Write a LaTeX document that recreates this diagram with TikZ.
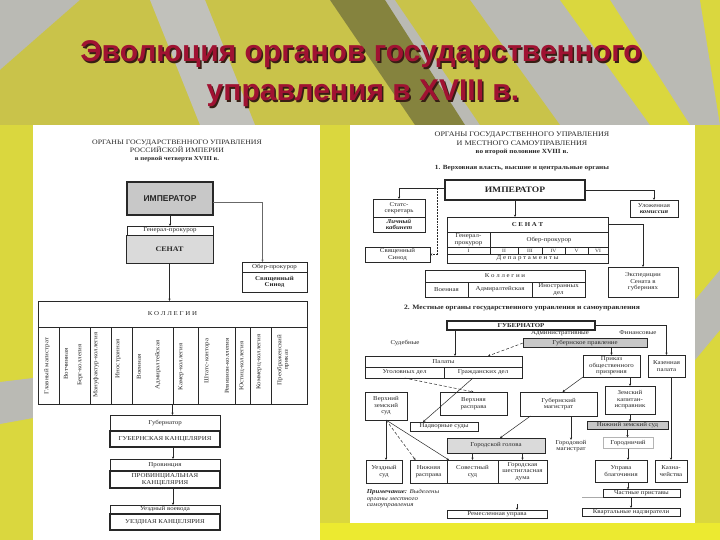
\documentclass[tikz,border=0pt]{standalone}
\usepackage{fontspec}
\setmainfont{Liberation Serif}[FakeStretch=1.15]
\newfontfamily\headfont{Liberation Sans}
\usetikzlibrary{arrows.meta}
\definecolor{slgrey}{RGB}{186,186,180}
\definecolor{slolive}{RGB}{201,195,74}
\definecolor{sldark}{RGB}{133,131,62}
\definecolor{slyellow}{RGB}{218,215,62}
\definecolor{slbright}{RGB}{236,234,48}
\definecolor{sltitle}{RGB}{160,18,50}
\definecolor{slshadow}{RGB}{55,30,20}
\definecolor{scink}{RGB}{40,40,40}
\definecolor{scgrey}{RGB}{200,200,200}
\definecolor{sclight}{RGB}{218,218,218}
\newcommand\sm{\fontsize{6}{6.5}\selectfont}
\newcommand\xs{\fontsize{4.8}{5.2}\selectfont}
\tikzset{
  bx/.style={draw=scink, line width=0.5pt, inner sep=0pt, outer sep=0pt,
             align=center, font=\sm, text=scink},
  hbx/.style={bx, line width=1.3pt},
  gbx/.style={bx, fill=scgrey},
  txt/.style={inner sep=0pt, align=center, font=\sm, text=scink},
  vtxt/.style={txt, rotate=90},
  ln/.style={draw=scink, line width=0.5pt},
  arr/.style={ln, -{Stealth[length=2.4pt,width=2.2pt]}},
  darr/.style={arr, densely dashed},
  ttl/.style={anchor=base, inner sep=0pt,
              font=\headfont\bfseries\fontsize{30}{34}\selectfont},
}

\begin{document}
\begin{tikzpicture}[x=1pt,y=-1pt]
\useasboundingbox (0,0) rectangle (720,540);

% slide background
\fill[slgrey] (0,0) rectangle (720,540);
\fill[slolive] (80,0) -- (330,0) -- (420,125) -- (0,125) -- (0,70) -- cycle;
\fill[slgrey!90!white] (150,0) -- (205,0) -- (255,125) -- (200,125) -- cycle;
\fill[sldark] (330,0) -- (385,0) -- (465,125) -- (415,125) -- cycle;
\fill[slolive] (395,0) -- (470,0) -- (560,125) -- (480,125) -- cycle;
\fill[slyellow] (560,0) -- (610,0) -- (690,125) -- (650,125) -- cycle;
\fill[slyellow] (700,0) -- (720,0) -- (720,125) -- cycle;
\fill[slyellow] (0,125) rectangle (33,540);
\fill[slgrey] (0,382) -- (33,378) -- (33,418) -- (0,424) -- cycle;
\fill[slyellow] (320,125) rectangle (350,540);
\fill[slyellow] (695,125) rectangle (720,540);
\fill[slgrey] (695,300) -- (720,270) -- (720,330) -- (695,360) -- cycle;
\fill[slbright] (320,523) rectangle (720,540);
\fill[white] (33,125) rectangle (320,540);
\fill[white] (350,125) rectangle (695,523);

% title
\node[ttl, text=slshadow] at (362.5,63.5) {Эволюция органов государственного};
\node[ttl, text=sltitle] (ttl1) at (361,62) {Эволюция органов государственного};
\node[ttl, text=slshadow] at (364.5,102.5) {управления в XVIII в.};
\node[ttl, text=sltitle] (ttl2) at (363,101) {управления в XVIII в.};

% ---------- first quarter ----------
\node[txt, font=\fontsize{6.8}{8.2}\selectfont] (ttlL) at (177,151)
  {ОРГАНЫ ГОСУДАРСТВЕННОГО УПРАВЛЕНИЯ\\РОССИЙСКОЙ ИМПЕРИИ\\
   \textbf{\fontsize{6}{8.2}\selectfont в первой четверти XVIII в.}};
\node[bx, line width=1.6pt, fill=scgrey, minimum width=86pt, minimum height=33pt,
      font=\headfont\bfseries\fontsize{8.5}{9}\selectfont] (empL) at (170,198.5) {ИМПЕРАТОР};
\node[bx, minimum width=86pt, minimum height=9pt] (genL) at (170,230.5) {Генерал-прокурор};
\node[bx, line width=0.8pt, fill=sclight, minimum width=87pt, minimum height=28pt,
      font=\bfseries\fontsize{7}{8}\selectfont] (senL) at (169.5,249) {СЕНАТ};
\node[bx, minimum width=65pt, minimum height=10pt] (oberL) at (274.5,267) {Обер-прокурор};
\node[bx, minimum width=65pt, minimum height=20pt, font=\bfseries\sm] (synL) at (274.5,282)
  {Священный\\Синод};
\node[bx, line width=0.7pt, minimum width=269pt, minimum height=26pt] (kolL) at (172.5,314)
  {К О Л Л Е Г И И};
\node[bx, minimum width=269pt, minimum height=77pt] (colsL) at (172.5,365.5) {};
\foreach \c in {59,90,111,132,173,198,235,250,271}
  \draw[ln] (\c,327) -- (\c,404);
\foreach \x/\y/\t in {47/366/Главный магистрат, 66/364/Вотчинная, 80/365/Берг-коллегия,
    96/365/Мануфактур-коллегия, 118/359/Иностранная, 139/367/Военная,
    158/365/Адмиралтейская, 181/367/Камер-коллегия, 207/361/Штатс-контора,
    227/366/Ревизион-коллегия, 242/366/Юстиц-коллегия, 259/362/Коммерц-коллегия,
    283/360/{Преображенский\\приказ}}
  \node[vtxt] at (\x,\y) {\t};
\node[bx, minimum width=110pt, minimum height=16pt] (gubL1) at (165,423) {Губернатор};
\node[hbx, minimum width=110pt, minimum height=16pt] (gubL2) at (165,439) {ГУБЕРНСКАЯ КАНЦЕЛЯРИЯ};
\node[bx, minimum width=110pt, minimum height=12pt] (prL1) at (165,465) {Провинция};
\node[hbx, minimum width=110pt, minimum height=17pt] (prL2) at (165,479.5)
  {ПРОВИНЦИАЛЬНАЯ\\КАНЦЕЛЯРИЯ};
\node[bx, minimum width=110pt, minimum height=9pt] (uzL1) at (165,509.5) {Уездный воевода};
\node[hbx, minimum width=110pt, minimum height=16pt] (uzL2) at (165,522) {УЕЗДНАЯ КАНЦЕЛЯРИЯ};

\draw[arr] (empL.south) -- (genL.north);
\draw[arr, draw=scink!70] ([yshift=-4pt]empL.east) -| ([xshift=-12pt]oberL.north);
\draw[arr] (senL.south) -- (senL.south |- kolL.north);
\draw[arr] (colsL.south) -- (colsL.south |- gubL1.north);
\draw[arr] ([xshift=8pt]gubL2.south) -- ([xshift=8pt]prL1.north);
\draw[arr] ([xshift=8pt]prL2.south) -- ([xshift=8pt]uzL1.north);

% ---------- second half ----------
\node[txt, font=\fontsize{7}{8.5}\selectfont] (ttlR) at (522,143.5)
  {ОРГАНЫ ГОСУДАРСТВЕННОГО УПРАВЛЕНИЯ\\И МЕСТНОГО САМОУПРАВЛЕНИЯ\\
   \textbf{\fontsize{6.3}{8.5}\selectfont во второй половине XVIII в.}};
\node[txt, font=\bfseries\fontsize{6.3}{7}\selectfont] (sec1) at (522,168)
  {1. Верховная власть, высшие и центральные органы};
\node[bx, line width=1.6pt, minimum width=140pt, minimum height=20pt,
      font=\bfseries\fontsize{8.3}{9}\selectfont] (empR) at (515,190) {ИМПЕРАТОР};
\node[bx, minimum width=52pt, minimum height=18pt] (stR) at (399,208) {Статс-\\секретарь};
\node[bx, minimum width=52pt, minimum height=15pt, font=\bfseries\itshape\sm] (kabR) at (399,224.5)
  {Личный\\кабинет};
\node[bx, minimum width=65pt, minimum height=15pt] (synR) at (397.5,254.5) {Священный\\Синод};
\node[bx, minimum width=48pt, minimum height=17pt] (ulR) at (654,208.5)
  {Уложенная\\\textbf{\textit{комиссия}}};
\node[bx, line width=0.8pt, minimum width=161pt, minimum height=15pt,
      font=\bfseries\fontsize{6}{7}\selectfont] (senR) at (527.5,224.5) {С Е Н А Т};
\node[bx, minimum width=43pt, minimum height=15pt] (genR) at (468.5,239.5) {Генерал-\\прокурор};
\node[bx, minimum width=118pt, minimum height=15pt] (oberR) at (549,239.5) {Обер-прокурор};
\foreach \n/\x/\w/\t in {d1/468.5/43/I, d2/504/28/II, d3/530/24/III,
    d4/553.5/23/IV, d5/576.5/23/V, d6/598/20/VI}
  \node[bx, font=\xs, minimum width=\w pt, minimum height=7pt] (\n) at (\x,250.5) {\t};
\node[bx, minimum width=161pt, minimum height=9pt] (depR) at (527.5,258.5)
  {Д е п а р т а м е н т ы};
\node[bx, minimum width=70pt, minimum height=30pt] (ekR) at (643,282)
  {Экспедиции\\Сената в\\губерниях};
\node[bx, minimum width=160pt, minimum height=12pt] (kolR) at (505,276) {К о л л е г и и};
\node[bx, minimum width=43pt, minimum height=15pt] (k1) at (446.5,289.5) {Военная};
\node[bx, minimum width=64pt, minimum height=15pt] (k2) at (500,289.5) {Адмиралтейская};
\node[bx, minimum width=53pt, minimum height=15pt] (k3) at (558.5,289.5) {Иностранных\\дел};

\coordinate (jR) at (437,188);
\draw[arr] ([yshift=2pt]empR.west) -| (stR.north);
\draw[arr, densely dotted] (jR) |- (synR.east);
\draw[arr] (empR.south) -- (empR.south |- senR.north);
\draw[arr] (empR.east) -| (ulR.north);
\draw[arr] (senR.east) -| (ekR.north);

\node[txt, font=\bfseries\fontsize{6.6}{7}\selectfont] (sec2) at (522,308)
  {2. Местные органы государственного управления и самоуправления};
\node[bx, line width=1.5pt, minimum width=148pt, minimum height=9pt,
      font=\bfseries\fontsize{6}{6.5}\selectfont] (gubR) at (521,325.5) {ГУБЕРНАТОР};
\node[txt] (admT) at (560,333) {Административные};
\node[txt] (finT) at (638,333) {Финансовые};
\node[txt] (sudT) at (405,343) {Судебные};
\node[gbx, minimum width=124pt, minimum height=9pt] (gpR) at (585,343) {Губернское правление};
\node[bx, minimum width=157pt, minimum height=11pt] (palR) at (443.5,361.5) {Палаты};
\node[bx, minimum width=79pt, minimum height=11pt] (ugR) at (404.5,372.5) {Уголовных дел};
\node[bx, minimum width=78pt, minimum height=11pt] (grR) at (483,372.5) {Гражданских дел};
\node[bx, minimum width=37pt, minimum height=22pt] (kazR) at (666.5,366) {Казенная\\палата};
\node[bx, minimum width=57pt, minimum height=22pt] (prR) at (611.5,366)
  {Приказ\\общественного\\призрения};
\node[bx, minimum width=77pt, minimum height=24pt] (gmR) at (558.5,404) {Губернский\\магистрат};
\node[bx, minimum width=50pt, minimum height=28pt] (zkR) at (630,400)
  {Земский\\капитан-\\исправник};
\node[bx, minimum width=42pt, minimum height=28pt] (vzR) at (386,406) {Верхний\\земский\\суд};
\node[bx, minimum width=67pt, minimum height=23pt] (vrR) at (473.5,403.5) {Верхняя\\расправа};
\node[bx, minimum width=68pt, minimum height=9pt] (ndR) at (444,426.5) {Надворные суды};
\node[bx, fill=sclight, minimum width=98pt, minimum height=15pt] (ghR) at (496,445.5)
  {Городской голова};
\node[txt] (gorM) at (571,446) {Городовой\\магистрат};
\node[gbx, minimum width=81pt, minimum height=8pt] (nzR) at (627.5,425.5) {Нижний земский суд};
\node[bx, draw=scink!35, minimum width=50pt, minimum height=11pt] (grdR) at (628,443) {Городничий};
\node[bx, minimum width=36pt, minimum height=23pt] (uzR) at (384,471.5) {Уездный\\суд};
\node[bx, minimum width=37pt, minimum height=23pt] (nrR) at (428.5,471.5) {Нижняя\\расправа};
\node[bx, minimum width=51pt, minimum height=23pt] (ssR) at (472.5,471.5) {Совестный\\суд};
\node[bx, minimum width=49pt, minimum height=23pt] (gdR) at (522.5,471.5)
  {Городская\\шестигласная\\дума};
\node[txt, align=left, font=\itshape\sm] (noteR) at (403,499)
  {\textbf{Примечание:} Выделены\\органы местного\\самоуправления};
\node[bx, minimum width=100pt, minimum height=8pt] (remR) at (497,514) {Ремесленная управа};
\node[bx, minimum width=52pt, minimum height=22pt] (ubR) at (621,471) {Управа\\благочиния};
\node[bx, minimum width=32pt, minimum height=22pt] (kchR) at (671,471) {Казна-\\чейства};
\node[bx, minimum width=77pt, minimum height=8pt] (chpR) at (641.5,493.5) {Частные приставы};
\node[bx, minimum width=98pt, minimum height=8pt] (kvR) at (631,512) {Квартальные надзиратели};
\coordinate (remT) at (517,504);

\draw[arr] ([xshift=-66pt]gubR.south) -- ([xshift=-66pt]gubR.south |- palR.north);
\draw[darr] (gpR.west) -- ([xshift=-34pt]palR.north east);
\draw[arr] (gubR.east) -| (kazR.north);
\draw[arr] (prR.north |- gpR.south) -- (prR.north);
\draw[arr] (prR.south west) -- ([xshift=4pt]gmR.north);
\draw[arr] (zkR.north |- prR.south) -- (zkR.north);
\draw[darr] (ugR.south) -- (vrR.north);
\draw[arr] ([xshift=-10pt]grR.south) -- ([xshift=-21pt]ndR.north);
\draw[arr] (vzR.south) -- (vzR.south |- uzR.north);
\draw[darr] (vzR.south) -- ([xshift=-13pt]nrR.north);
\draw[arr] (vzR.south) -- ([xshift=2pt]ssR.north west);
\draw[arr] ([xshift=-28pt]gmR.south) -- ([xshift=4pt]ghR.north);
\draw[arr] (gorM.north |- gmR.south) -- (gorM.north);
\draw[arr] (ghR.south -| ssR.north) -- (ssR.north);
\draw[arr] (ghR.south -| gdR.north) -- (gdR.north);
\draw[arr] (remT) -- (remT |- remR.north);
\draw[arr] (zkR.south) -- (zkR.south |- nzR.north);
\draw[arr] (nzR.south) -- (nzR.south |- grdR.north);
\draw[arr] (grdR.south) -- (grdR.south |- ubR.north);
\draw[arr] (kchR.north |- kazR.south) -- (kchR.north);
\draw[arr] ([xshift=7pt]ubR.south) -- ([xshift=7pt]ubR.south |- chpR.north);
\draw[ln, draw=scink!40] (chpR.south west) -- ++(-21,0);
\draw[arr] (kvR.north |- chpR.south) -- (kvR.north);
\end{tikzpicture}
\end{document}
